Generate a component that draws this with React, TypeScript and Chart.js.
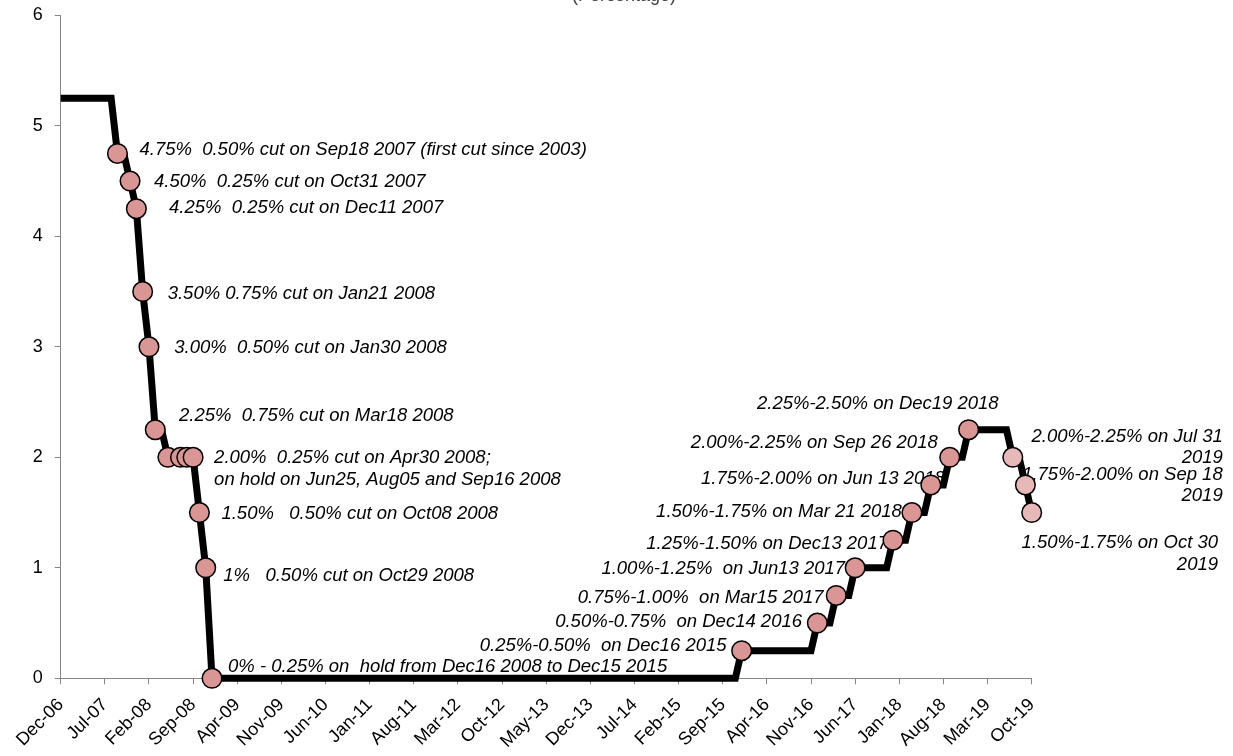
import React, { useEffect, useRef } from "react";
import { Chart, registerables } from "chart.js";

Chart.register(...registerables);

// ---------- data ----------
const TICK_LABELS = [
  "Dec-06", "Jul-07", "Feb-08", "Sep-08", "Apr-09", "Nov-09", "Jun-10", "Jan-11",
  "Aug-11", "Mar-12", "Oct-12", "May-13", "Dec-13", "Jul-14", "Feb-15", "Sep-15",
  "Apr-16", "Nov-16", "Jun-17", "Jan-18", "Aug-18", "Mar-19", "Oct-19",
];

// Fed funds target (upper/point), monthly vertices of the step line
const RATE_MONTHS = [
  "2006-12", "2007-08", "2007-09", "2007-10", "2007-11", "2007-12", "2008-01", "2008-02",
  "2008-03", "2008-04", "2008-05", "2008-09", "2008-10", "2008-11", "2008-12", "2015-11",
  "2015-12", "2016-11", "2016-12", "2017-02", "2017-03", "2017-05", "2017-06", "2017-11",
  "2017-12", "2018-02", "2018-03", "2018-05", "2018-06", "2018-08", "2018-09", "2018-11",
  "2018-12", "2019-06", "2019-07", "2019-08", "2019-09", "2019-10",
];
const RATE_VALUES = [
  5.25, 5.25, 4.75, 4.75, 4.5, 4.25, 3.5, 3.0,
  2.25, 2.25, 2.0, 2.0, 1.5, 1.0, 0, 0,
  0.25, 0.25, 0.5, 0.5, 0.75, 0.75, 1.0, 1.0,
  1.25, 1.25, 1.5, 1.5, 1.75, 1.75, 2.0, 2.0,
  2.25, 2.25, 2.0, 2.0, 1.75, 1.5,
];

// FOMC decision markers
const MARKER_MONTHS = [
  "2007-09", "2007-11", "2007-12", "2008-01", "2008-02", "2008-03", "2008-05", "2008-07",
  "2008-08", "2008-09", "2008-10", "2008-11", "2008-12", "2015-12", "2016-12", "2017-03",
  "2017-06", "2017-12", "2018-03", "2018-06", "2018-09", "2018-12", "2019-07", "2019-09",
  "2019-10",
];
const MARKER_VALUES = [
  4.75, 4.5, 4.25, 3.5, 3.0, 2.25, 2.0, 2.0,
  2.0, 2.0, 1.5, 1.0, 0, 0.25, 0.5, 0.75,
  1.0, 1.25, 1.5, 1.75, 2.0, 2.25, 2.0, 1.75,
  1.5,
];
const RECENT_CUTS_FROM = "2019-01";

const ANNOTATION_TEXTS: string[][] = [
  ["4.75%  0.50% cut on Sep18 2007 (first cut since 2003)"],
  ["4.50%  0.25% cut on Oct31 2007"],
  ["4.25%  0.25% cut on Dec11 2007"],
  ["3.50% 0.75% cut on Jan21 2008"],
  ["3.00%  0.50% cut on Jan30 2008"],
  ["2.25%  0.75% cut on Mar18 2008"],
  ["2.00%  0.25% cut on Apr30 2008;", "on hold on Jun25, Aug05 and Sep16 2008"],
  ["1.50%   0.50% cut on Oct08 2008"],
  ["1%   0.50% cut on Oct29 2008"],
  ["0% - 0.25% on  hold from Dec16 2008 to Dec15 2015"],
  ["0.25%-0.50%  on Dec16 2015"],
  ["0.50%-0.75%  on Dec14 2016"],
  ["0.75%-1.00%  on Mar15 2017"],
  ["1.00%-1.25%  on Jun13 2017"],
  ["1.25%-1.50% on Dec13 2017"],
  ["1.50%-1.75% on Mar 21 2018"],
  ["1.75%-2.00% on Jun 13 2018"],
  ["2.00%-2.25% on Sep 26 2018"],
  ["2.25%-2.50% on Dec19 2018"],
  ["2.00%-2.25% on Jul 31", "2019"],
  ["1.75%-2.00% on Sep 18", "2019"],
  ["1.50%-1.75% on Oct 30", "2019"],
];
// marker each annotation belongs to
const ANNOTATION_ANCHORS = [0, 1, 2, 3, 4, 5, 9, 10, 11, 12, 13, 14, 15, 16, 17, 18, 19, 20, 21, 22, 23, 24];

// ---------- layout / style (not data) ----------
const ANNOTATION_LAYOUT: [number, number, CanvasTextAlign][] = [
  [22, -5, "left"],
  [24, -1, "left"],
  [32.6, -2.7, "left"],
  [25, 0.7, "left"],
  [25.3, 0, "left"],
  [23.7, -15.4, "left"],
  [21, -0.6, "left"],
  [22, 0.2, "left"],
  [17.5, 6.5, "left"],
  [16, -13.3, "left"],
  [-15.1, -6.4, "right"],
  [-15.3, -3, "right"],
  [-12.7, 1.3, "right"],
  [-10, -0.5, "right"],
  [-5, 2, "right"],
  [-10, -2.5, "right"],
  [14, -8, "right"],
  [-12, -16.3, "right"],
  [30, -27, "right"],
  [210, -22.3, "right"],
  [197.3, -12, "right"],
  [186.3, 29.2, "right"],
];

const FONT_FAMILY = '"Liberation Sans", Arial, Helvetica, sans-serif';
const ANNOT_SIZE = 18.5;
const LINE_GAP = 21.6;
const AXIS_GREY = "#868686";
const MARKER_FILL = "#D99694";
const MARKER_FILL_LIGHT = "#E6B9B8";

const W = 1233;
const H = 756;
const PLOT_LEFT = 60.7;
const PLOT_RIGHT = 1031.7;
const PLOT_TOP = 15.3;
const PLOT_BOTTOM = 678.3;

const MONTH_NAMES = ["Jan", "Feb", "Mar", "Apr", "May", "Jun", "Jul", "Aug", "Sep", "Oct", "Nov", "Dec"];
// months since Dec 2006
function monthIndex(ym: string): number {
  const [y, m] = ym.split("-").map(Number);
  return (y - 2006) * 12 + (m - 12);
}
function tickIndex(label: string): number {
  const [mon, yy] = label.split("-");
  const m = MONTH_NAMES.indexOf(mon) + 1;
  return monthIndex(`${2000 + Number(yy)}-${String(m).padStart(2, "0")}`);
}
const TICK_VALUES = TICK_LABELS.map(tickIndex);

const annotationPlugin = {
  id: "fedAnnotations",
  beforeDatasetsDraw(chart: any) {
    const ctx: CanvasRenderingContext2D = chart.ctx;
    const xs = chart.scales.x;
    const ys = chart.scales.y;
    ctx.save();
    ctx.font = `italic ${ANNOT_SIZE}px ${FONT_FAMILY}`;
    ctx.fillStyle = "#000";
    ctx.textBaseline = "alphabetic";
    ANNOTATION_TEXTS.forEach((lines, i) => {
      const mi = ANNOTATION_ANCHORS[i];
      const px = xs.getPixelForValue(monthIndex(MARKER_MONTHS[mi]));
      const py = ys.getPixelForValue(MARKER_VALUES[mi]);
      const [dx, dy, align] = ANNOTATION_LAYOUT[i];
      ctx.textAlign = align;
      lines.forEach((t, j) => {
        ctx.fillText(t, px + dx, py + dy + j * LINE_GAP + ANNOT_SIZE * 0.358);
      });
    });
    ctx.restore();
  },
  afterDraw(chart: any) {
    const ctx: CanvasRenderingContext2D = chart.ctx;
    ctx.save();
    ctx.font = `18px ${FONT_FAMILY}`;
    ctx.fillStyle = "#404040";
    ctx.textAlign = "center";
    ctx.textBaseline = "alphabetic";
    ctx.fillText("(Percentage)", 624, 0.5);
    ctx.restore();
  },
};

function zeroPadding(scale: any) {
  scale.paddingTop = 0;
  scale.paddingBottom = 0;
  scale.paddingLeft = 0;
  scale.paddingRight = 0;
}

export default function App() {
  const ref = useRef<HTMLCanvasElement | null>(null);
  useEffect(() => {
    if (!ref.current) return;
    const lineData = RATE_MONTHS.map((m, i) => ({ x: monthIndex(m), y: RATE_VALUES[i] }));
    const markerData = MARKER_MONTHS.map((m, i) => ({ x: monthIndex(m), y: MARKER_VALUES[i] }));
    const recentFrom = monthIndex(RECENT_CUTS_FROM);
    const markerColors = MARKER_MONTHS.map((m) => (monthIndex(m) >= recentFrom ? MARKER_FILL_LIGHT : MARKER_FILL));

    const chart = new Chart(ref.current, {
      type: "line",
      data: {
        datasets: [
          {
            label: "FOMC decisions",
            data: markerData,
            showLine: false,
            pointRadius: 9.8,
            pointBorderWidth: 1.5,
            pointBorderColor: "#000",
            pointBackgroundColor: markerColors,
            order: 0,
            clip: false as any,
          },
          {
            label: "Fed funds target",
            data: lineData,
            borderColor: "#000",
            borderWidth: 7,
            borderJoinStyle: "miter",
            borderCapStyle: "butt",
            pointRadius: 0,
            tension: 0,
            fill: false,
            order: 1,
            clip: false as any,
          },
        ],
      },
      options: {
        responsive: false,
        animation: false,
        events: [],
        layout: {
          padding: { left: 0, top: PLOT_TOP, right: W - PLOT_RIGHT, bottom: 0 },
        },
        plugins: {
          legend: { display: false },
          tooltip: { enabled: false },
          title: { display: false },
        },
        scales: {
          x: {
            type: "linear",
            min: TICK_VALUES[0],
            max: TICK_VALUES[TICK_VALUES.length - 1],
            afterBuildTicks: (scale: any) => {
              scale.ticks = TICK_VALUES.map((v) => ({ value: v }));
            },
            afterFit: (scale: any) => {
              scale.height = H - PLOT_BOTTOM;
              zeroPadding(scale);
            },
            grid: {
              drawOnChartArea: false,
              drawTicks: true,
              tickLength: 6,
              color: AXIS_GREY,
            },
            border: { display: true, color: AXIS_GREY, width: 1 },
            ticks: {
              autoSkip: false,
              maxRotation: 45,
              minRotation: 45,
              padding: 10,
              color: "#000",
              font: { family: FONT_FAMILY, size: 18 },
              callback: (value: any) => {
                const idx = TICK_VALUES.indexOf(Number(value));
                return idx >= 0 ? TICK_LABELS[idx] : "";
              },
            },
          },
          y: {
            type: "linear",
            min: 0,
            max: 6,
            afterFit: (scale: any) => {
              scale.width = PLOT_LEFT;
              zeroPadding(scale);
            },
            grid: {
              drawOnChartArea: false,
              drawTicks: true,
              tickLength: 6,
              color: AXIS_GREY,
            },
            border: { display: true, color: AXIS_GREY, width: 1 },
            ticks: {
              stepSize: 1,
              padding: 12,
              color: "#000",
              font: { family: FONT_FAMILY, size: 18 },
            },
          },
        },
      },
      plugins: [annotationPlugin],
    });
    return () => chart.destroy();
  }, []);

  return (
    <div style={{ position: "absolute", left: 0, top: 0, width: W, height: H, background: "#fff" }}>
      <canvas ref={ref} width={W} height={H} style={{ display: "block" }} />
    </div>
  );
}
